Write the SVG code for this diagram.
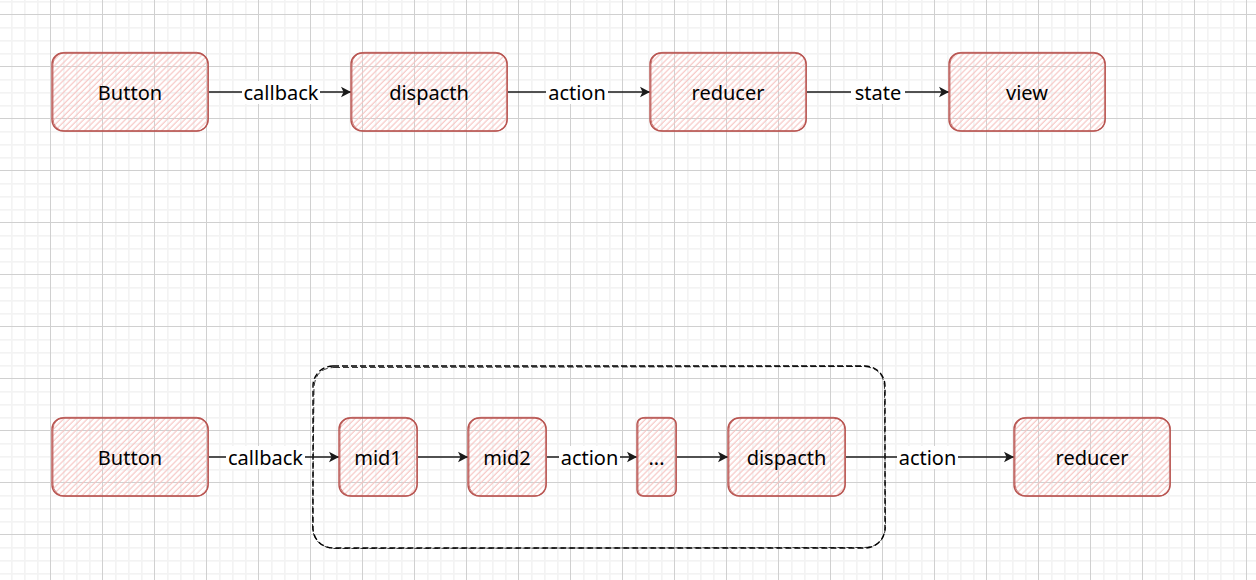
<svg xmlns="http://www.w3.org/2000/svg" width="1256" height="580" viewBox="0 0 1256 580">
  <style>
    .lbl { font-family: "Noto Sans", "Liberation Sans", sans-serif; font-size: 20px; fill: #000; text-anchor: middle; }
    .nfill { fill: url(#hatch); stroke: none; }
    .nstroke { fill: none; stroke: #b85450; stroke-width: 1.4; }
    .nstroke2 { fill: none; stroke: #b85450; stroke-width: 1; opacity: 0.75; }
    .edge { fill: none; stroke: #1a1a1a; stroke-width: 1.4; }
    .lblbg { fill: #ffffff; }
    .dash { fill: none; stroke: #000; stroke-width: 1.4; stroke-dasharray: 6 3; }
    .dash2 { fill: none; stroke: #000; stroke-width: 1; stroke-dasharray: 6 3; opacity: 0.8; }
  </style>
  <defs>
    <pattern id="grid" patternUnits="userSpaceOnUse" x="50" y="14" width="52" height="52">
      <rect x="0" y="0" width="52" height="52" fill="#ffffff"/>
      <rect x="13" y="0" width="1.6" height="52" fill="#f3f3f3"/>
      <rect x="26" y="0" width="1.6" height="52" fill="#f3f3f3"/>
      <rect x="39" y="0" width="1.6" height="52" fill="#f3f3f3"/>
      <rect x="0" y="13" width="52" height="1.6" fill="#f3f3f3"/>
      <rect x="0" y="26" width="52" height="1.6" fill="#f3f3f3"/>
      <rect x="0" y="39" width="52" height="1.6" fill="#f3f3f3"/>
      <rect x="0" y="0" width="1" height="52" fill="#d0d0d0"/>
      <rect x="0" y="0" width="52" height="1" fill="#d0d0d0"/>
    </pattern>
    <pattern id="hatch" patternUnits="userSpaceOnUse" width="4.2" height="4.2" patternTransform="rotate(45)">
      <line x1="1" y1="-1" x2="1" y2="6" stroke="#f6c3c0" stroke-width="1.1"/>
    </pattern>
    <marker id="arr" markerUnits="userSpaceOnUse" viewBox="0 0 12 12" refX="11" refY="6" markerWidth="12" markerHeight="12" orient="auto">
      <path d="M11,6 L1,0.8 L3.5,6 L1,11.2 Z" fill="#1a1a1a"/>
    </marker>
  </defs>

  <rect x="0" y="0" width="1256" height="580" fill="url(#grid)"/>

  <!-- dashed container -->
  <g id="container">
    <rect class="dash" x="313" y="366" width="572" height="182" rx="20"/>
    <path class="dash2" d="M334,367.5 L864,366.5 Q884,368 884.5,388 L885.5,527 Q884,547 864,547.5 L333,548.5 Q313.5,546 312.5,527 L314,388 Q315,368 334,367.5 Z"/>
  </g>

  <!-- connectors -->
  <g id="connectors">
    <path class="edge" d="M209,92 L351,92" marker-end="url(#arr)"/>
    <path class="edge" d="M508,92 L650,92" marker-end="url(#arr)"/>
    <path class="edge" d="M807,92 L949,92" marker-end="url(#arr)"/>
    <path class="edge" d="M209,457 L339,457" marker-end="url(#arr)"/>
    <path class="edge" d="M418,457 L468,457" marker-end="url(#arr)"/>
    <path class="edge" d="M547,457 L637,457" marker-end="url(#arr)"/>
    <path class="edge" d="M677,457 L728,457" marker-end="url(#arr)"/>
    <path class="edge" d="M846,457 L1014,457" marker-end="url(#arr)"/>

    <rect class="lblbg" x="242" y="81" width="78" height="23"/>
    <text class="lbl" x="281" y="100">callback</text>
    <rect class="lblbg" x="546" y="81" width="62" height="23"/>
    <text class="lbl" x="577" y="100">action</text>
    <rect class="lblbg" x="851" y="81" width="54" height="23"/>
    <text class="lbl" x="878" y="100">state</text>

    <rect class="lblbg" x="226" y="446" width="79" height="23"/>
    <text class="lbl" x="265.5" y="465">callback</text>
    <rect class="lblbg" x="559" y="446" width="61" height="23"/>
    <text class="lbl" x="589.5" y="465">action</text>
    <rect class="lblbg" x="897" y="446" width="61" height="23"/>
    <text class="lbl" x="927.5" y="465">action</text>
  </g>

  <!-- top row -->
  <g id="n-button1">
    <rect class="nfill" x="52" y="53" width="156" height="78" rx="11"/>
    <rect class="nstroke" x="52" y="53" width="156" height="78" rx="11"/>
    <rect class="nstroke2" x="53" y="52.3" width="155.5" height="78.8" rx="12"/>
    <text class="lbl" x="130" y="100">Button</text>
  </g>
  <g id="n-dispatch1">
    <rect class="nfill" x="351" y="53" width="156" height="78" rx="11"/>
    <rect class="nstroke" x="351" y="53" width="156" height="78" rx="11"/>
    <rect class="nstroke2" x="352" y="52.3" width="155.5" height="78.8" rx="12"/>
    <text class="lbl" x="429" y="100">dispacth</text>
  </g>
  <g id="n-reducer1">
    <rect class="nfill" x="650" y="53" width="156" height="78" rx="11"/>
    <rect class="nstroke" x="650" y="53" width="156" height="78" rx="11"/>
    <rect class="nstroke2" x="651" y="52.3" width="155.5" height="78.8" rx="12"/>
    <text class="lbl" x="728" y="100">reducer</text>
  </g>
  <g id="n-view">
    <rect class="nfill" x="949" y="53" width="156" height="78" rx="11"/>
    <rect class="nstroke" x="949" y="53" width="156" height="78" rx="11"/>
    <rect class="nstroke2" x="950" y="52.3" width="155.5" height="78.8" rx="12"/>
    <text class="lbl" x="1027" y="100">view</text>
  </g>

  <!-- bottom row -->
  <g id="n-button2">
    <rect class="nfill" x="52" y="418" width="156" height="78" rx="11"/>
    <rect class="nstroke" x="52" y="418" width="156" height="78" rx="11"/>
    <rect class="nstroke2" x="53" y="417.3" width="155.5" height="78.8" rx="12"/>
    <text class="lbl" x="130" y="465">Button</text>
  </g>
  <g id="n-mid1">
    <rect class="nfill" x="339" y="418" width="78" height="78" rx="11"/>
    <rect class="nstroke" x="339" y="418" width="78" height="78" rx="11"/>
    <rect class="nstroke2" x="340" y="417.3" width="77.5" height="78.8" rx="12"/>
    <text class="lbl" x="378" y="465">mid1</text>
  </g>
  <g id="n-mid2">
    <rect class="nfill" x="468" y="418" width="78" height="78" rx="11"/>
    <rect class="nstroke" x="468" y="418" width="78" height="78" rx="11"/>
    <rect class="nstroke2" x="469" y="417.3" width="77.5" height="78.8" rx="12"/>
    <text class="lbl" x="507" y="465">mid2</text>
  </g>
  <g id="n-dots">
    <rect class="nfill" x="637" y="418" width="39" height="78" rx="6"/>
    <rect class="nstroke" x="637" y="418" width="39" height="78" rx="6"/>
    <rect class="nstroke2" x="638" y="417.3" width="38.5" height="78.8" rx="7"/>
    <text class="lbl" x="656.5" y="465">...</text>
  </g>
  <g id="n-dispatch2">
    <rect class="nfill" x="728" y="418" width="117" height="78" rx="11"/>
    <rect class="nstroke" x="728" y="418" width="117" height="78" rx="11"/>
    <rect class="nstroke2" x="729" y="417.3" width="116.5" height="78.8" rx="12"/>
    <text class="lbl" x="786.5" y="465">dispacth</text>
  </g>
  <g id="n-reducer2">
    <rect class="nfill" x="1014" y="418" width="156" height="78" rx="11"/>
    <rect class="nstroke" x="1014" y="418" width="156" height="78" rx="11"/>
    <rect class="nstroke2" x="1015" y="417.3" width="155.5" height="78.8" rx="12"/>
    <text class="lbl" x="1092" y="465">reducer</text>
  </g>
</svg>
